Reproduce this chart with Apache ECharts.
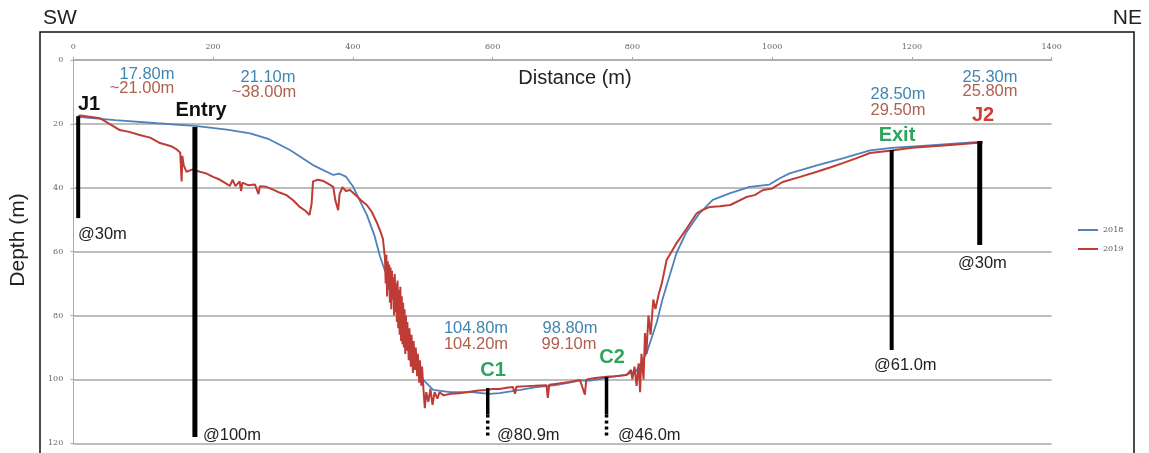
<!DOCTYPE html>
<html><head><meta charset="utf-8">
<script src="https://cdn.jsdelivr.net/npm/echarts@6/dist/echarts.min.js"></script>
<style>html,body{margin:0;padding:0;background:#fff}#c{width:1149px;height:453px}</style>
</head><body><div id="c"></div>
<script>
// ---- data ----
const seriesNames = ['2018', '2019'];
const dist2018 = [7,60,120,174,220,253,280,310,343,372,381,390,400,410,420,431,439,446,460,470,486,500,515,539,570,595,610,640,660,690,710,725,740,755,770,790,805,820,835,843,863,877,896,915,940,968,996,1011,1025,1064,1101,1140,1171,1220,1260,1301];
const depth2018 = [17.8,18.8,19.8,20.6,21.8,23.0,24.8,28.2,32.9,36.0,35.6,36.5,39.5,44,48.5,55,61.6,66,73,79,90,100,103.3,104.0,104.0,104.5,104.3,103.3,102.5,101.8,101.0,100.3,100.4,99.8,99.2,98.6,97.5,92,82,75,60.5,54,48,43.8,41.7,39.7,39.0,37.0,35.5,33,30.8,28.3,27.5,26.8,26.2,25.6];

const dist2019 = [
  7,10,38,66,80,95,110,124,140,148,153,155,156,158,162,170,181,190,200,210,
  224,228,232,238,240,242,250,260,265,267,276,285,295,305,315,324,332,338,341,343,
  350,358,365,372,375,379,381,385,390,396,405,412,420,427,434,440,443,
  446,447,448,449,450,451,452,453,454,455,456,457,458,459,460,461,462,463,464,465,466,467,468,469,470,471,472,473,474,475,476,477,478,480,481,483,484,486,487,489,490,492,493,495,496,498,499,
  501,503,505,508,511,514,517,521,524,530,540,553,570,580,591,600,610,620,629,632,634,
  650,660,677,679,681,690,700,710,725,732,734,740,750,763,775,785,792,
  798,800,803,806,809,811,813,816,818,820,823,826,830,833,838,842,849,856,863,
  877,892,900,911,925,940,963,975,987,1000,1015,1040,1064,1085,1101,1120,1140,1171,1200,1230,1260,1290,1301];
const depth2019 = [
  17.6,17.4,18.2,21.9,22.5,23.5,24.3,26.0,27.0,28.0,29.0,38,30,33,35.0,34.3,35.0,35.5,36.6,37.5,
  39.4,37.5,39.5,38.0,41,38.4,39.2,39.0,42,39.5,39.7,40.5,41.5,42.3,44,46,47.2,48.5,45,38,
  37.5,37.9,38.8,39.7,44,47,42,39.8,41,40.7,42.5,44,45.4,47.5,50.7,54,56,
  62,70,61,74,63,72,64,76,65,78,66,75,68,80,67,79,70,82,69,84,72,86,71,88,74,89,76,90,78,92,80,91,82,94,84,96,86,98,88,97,90,99,92,101,94,102,96,
  103,109,104,107,103,108,104,106,104,105,104.5,104.3,103.8,103.5,103.3,103.0,103.0,102.6,102.4,104.5,102.3,
  102.1,102.0,101.8,105.8,101.7,101.4,101.1,100.8,100.2,104.8,100.1,99.8,99.5,99.2,99.0,98.8,98.6,
  97,100,96,102,95,104,92,100,85.5,92,80,86,75,78,73,70,62.6,60,57.4,
  53,48,47,46,45.8,45.4,42.9,42.3,40.7,40.2,38.2,36.6,35.0,33.5,32.3,30.8,29.1,28.3,27.5,27,26.5,26.0,25.8];

// annotation bars (distance, top depth, bottom depth)
const barNames = ['J1','Entry','C1','C2','Exit','J2'];
const barDist = [7,174,593,763,1171,1297];
const barTop = [17.6,21.0,102.7,99.2,28.2,25.4];
const barBottom = [49.5,118,111,111,90.8,57.9];
// dashed extensions below C1, C2
const dashDist = [593,763];
const dashTop = [111,111];
const dashBottom = [118.4,118.4];

const xMin = 0, xMax = 1400, xStep = 200;
const yMin = 0, yMax = 120, yStep = 20;

// ---- styles ----
const BAR_W = [4,5,3.5,3.5,4,5];
const BLUE = '#4f81bd', RED = '#bf3b36';
const TBLUE = '#3f86b4', TRED = '#b0604f', GREEN = '#2ea55d', JRED = '#d43a2f';

const chart = echarts.init(document.getElementById('c'), null, {renderer:'canvas'});

function txt(s, x, y, opt) {
  return {
    type: 'text', x: x, y: y,
    style: Object.assign({text: s, fontFamily: 'Liberation Sans, Arial, sans-serif', fontSize: 16.5,
      fill: '#222', align: 'center', verticalAlign: 'middle'}, opt || {})
  };
}
const bold = (c) => ({fontWeight: 'bold', fontSize: 20, fill: c});

const graphics = [
  {type:'rect', shape:{x:40, y:32, width:1094, height:460}, style:{fill:'none', stroke:'#111', lineWidth:1.5}, z:-1},
  txt('SW', 43, 18, {fontSize:21, align:'left'}),
  txt('NE', 1142, 18, {fontSize:21, align:'right'}),
  txt('Distance (m)', 575, 78, {fontSize:20}),
  Object.assign(txt('Depth (m)', 0, 0, {fontSize:21}), {x:18, y:240, rotation: Math.PI/2}),
  txt('J1', 89, 104, bold('#111')),
  txt('Entry', 201, 110, bold('#111')),
  txt('C1', 493, 370, bold(GREEN)),
  txt('C2', 612, 357, bold(GREEN)),
  txt('Exit', 897, 135, bold(GREEN)),
  txt('J2', 983, 115, bold(JRED)),
  txt('17.80m', 147, 74, {fill:TBLUE}),
  txt('~21.00m', 142, 88, {fill:TRED}),
  txt('21.10m', 268, 77, {fill:TBLUE}),
  txt('~38.00m', 264, 92, {fill:TRED}),
  txt('104.80m', 476, 328, {fill:TBLUE}),
  txt('104.20m', 476, 344, {fill:TRED}),
  txt('98.80m', 570, 328, {fill:TBLUE}),
  txt('99.10m', 569, 344, {fill:TRED}),
  txt('28.50m', 898, 94, {fill:TBLUE}),
  txt('29.50m', 898, 110, {fill:TRED}),
  txt('25.30m', 990, 77, {fill:TBLUE}),
  txt('25.80m', 990, 91, {fill:TRED}),
  txt('@30m', 78, 234, {align:'left'}),
  txt('@100m', 203, 435, {align:'left'}),
  txt('@80.9m', 497, 435, {align:'left'}),
  txt('@46.0m', 618, 435, {align:'left'}),
  txt('@61.0m', 874, 365, {align:'left'}),
  txt('@30m', 958, 263, {align:'left'})
];

const barData = barDist.map((d, i) => [d, barTop[i], barBottom[i], i]);
const dashData = dashDist.map((d, i) => [d, dashTop[i], dashBottom[i], i + 2]);

function barRender(dashed) {
  return function (params, api) {
    const p1 = api.coord([api.value(0), api.value(1)]);
    const p2 = api.coord([api.value(0), api.value(2)]);
    const idx = api.value(3);
    return {type:'line', shape:{x1:p1[0], y1:p1[1], x2:p2[0], y2:p2[1]},
      style:{stroke:'#000', lineWidth: BAR_W[idx], lineDash: dashed ? [3,3] : null}};
  };
}

chart.setOption({
  animation: false,
  textStyle: {fontFamily: 'Liberation Sans, Arial, sans-serif'},
  grid: {left: 73.3, top: 60, width: 978.4, height: 383.3, containLabel: false, outerBoundsMode: 'none'},
  legend: {
    data: seriesNames, orient: 'vertical', left: 1078, top: 226, itemWidth: 20, itemHeight: 2, itemGap: 11,
    icon: 'rect', textStyle: {fontSize: 8, color: '#555', fontFamily: 'DejaVu Serif'}, padding: 0
  },
  xAxis: {
    type: 'value', position: 'top', min: xMin, max: xMax, interval: xStep,
    axisLine: {show: true, lineStyle: {color: '#aaa', width: 1.5}},
    axisTick: {show: true, inside: false, length: 3, lineStyle: {color: '#aaa'}},
    axisLabel: {fontSize: 8, color: '#666', margin: 9, fontFamily: 'DejaVu Serif', formatter: v => String(v)},
    splitLine: {show: false}
  },
  yAxis: {
    type: 'value', inverse: true, min: yMin, max: yMax, interval: yStep,
    axisLine: {show: true, lineStyle: {color: '#aaa', width: 1}},
    axisTick: {show: true, length: 3, lineStyle: {color: '#aaa'}},
    axisLabel: {fontSize: 8, color: '#666', margin: 10, fontFamily: 'DejaVu Serif', formatter: v => String(v)},
    splitLine: {show: true, lineStyle: {color: '#bdbdbd', width: 2}}
  },
  series: [
    {name: seriesNames[0], type: 'line', symbol: 'none', z: 3,
      data: dist2018.map((d, i) => [d, depth2018[i]]),
      lineStyle: {color: BLUE, width: 1.8}, itemStyle: {color: BLUE}},
    {name: seriesNames[1], type: 'line', symbol: 'none', z: 4,
      data: dist2019.map((d, i) => [d, depth2019[i]]),
      lineStyle: {color: RED, width: 2}, itemStyle: {color: RED}},
    {type: 'custom', z: 5, renderItem: barRender(false), data: barData, silent: true},
    {type: 'custom', z: 5, renderItem: barRender(true), data: dashData, silent: true}
  ],
  graphic: graphics
});
</script></body></html>
